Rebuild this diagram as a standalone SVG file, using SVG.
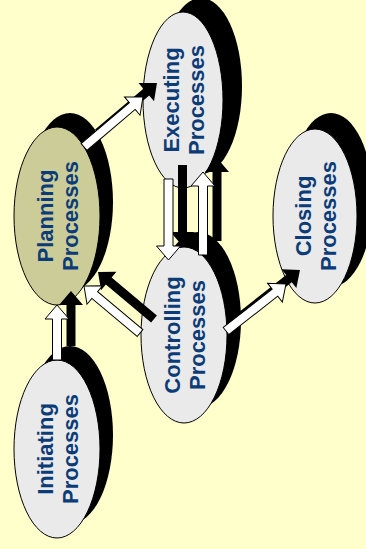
<svg xmlns="http://www.w3.org/2000/svg" xmlns:xlink="http://www.w3.org/1999/xlink" width="366" height="549" viewBox="0 0 366 549">
<style>
.bg{fill:#FFFFCC}
.sh{fill:#000000}
.el{fill:#EAEAEA;stroke:#000000;stroke-width:1}
.pl{fill:#CCCC99}
.lb{font-family:"Liberation Sans",Arial,sans-serif;font-weight:bold;font-size:22px;fill:#0B3C78;text-anchor:middle}
.ash{fill:#000000}
.aw{fill:#FFFFFF;stroke:#000000;stroke-width:1}
</style>
<defs>
<polygon id="a1" transform="translate(57,360) rotate(-90)" points="0,-4.5 41,-4.5 41,-12 55,0 41,12 41,4.5 0,4.5"/>
<polygon id="a2" transform="translate(84,147) rotate(-40.3)" points="0,-4.5 63.3,-4.5 63.3,-12 77.3,0 63.3,12 63.3,4.5 0,4.5"/>
<polygon id="a3" transform="translate(168.5,179) rotate(90)" points="0,-4.5 67,-4.5 67,-12 81,0 67,12 67,4.5 0,4.5"/>
<polygon id="a4" transform="translate(203,255) rotate(-90)" points="0,-4.5 69,-4.5 69,-12 83,0 69,12 69,4.5 0,4.5"/>
<polygon id="a5" transform="translate(140,333) rotate(-140)" points="0,-4.5 59.1,-4.5 59.1,-12 73.1,0 59.1,12 59.1,4.5 0,4.5"/>
<polygon id="a6" transform="translate(226,331) rotate(-38.1)" points="0,-4.5 62.2,-4.5 62.2,-12 76.2,0 62.2,12 62.2,4.5 0,4.5"/>
</defs>
<rect class="bg" x="0" y="0" width="366" height="549"/>
<g id="node-executing">
<ellipse class="sh" cx="201" cy="86" rx="41" ry="88"/>
<ellipse class="el" cx="183" cy="100" rx="40" ry="88"/>
<text class="lb" transform="translate(183,100) rotate(-90)"><tspan x="0" y="-4">Executing</tspan><tspan x="0" y="21">Processes</tspan></text>
</g>
<g id="node-planning">
<ellipse class="sh" cx="70" cy="202" rx="43" ry="89"/>
<ellipse class="el pl" cx="57" cy="216" rx="43" ry="89"/>
<text class="lb" transform="translate(57,216) rotate(-90)"><tspan x="0" y="-4">Planning</tspan><tspan x="0" y="21">Processes</tspan></text>
</g>
<g id="node-closing">
<ellipse class="sh" cx="331" cy="200" rx="42" ry="87"/>
<ellipse class="el" cx="315" cy="216" rx="42" ry="87"/>
<text class="lb" transform="translate(315,216) rotate(-90)"><tspan x="0" y="-4">Closing</tspan><tspan x="0" y="21">Processes</tspan></text>
</g>
<g id="node-controlling">
<ellipse class="sh" cx="198" cy="320" rx="43" ry="88"/>
<ellipse class="el" cx="184" cy="335" rx="43" ry="88"/>
<text class="lb" transform="translate(184,335) rotate(-90)"><tspan x="0" y="-4">Controlling</tspan><tspan x="0" y="21">Processes</tspan></text>
</g>
<g id="node-initiating">
<ellipse class="sh" cx="70" cy="435" rx="43" ry="89"/>
<ellipse class="el" cx="57" cy="449" rx="43" ry="89"/>
<text class="lb" transform="translate(57,449) rotate(-90)"><tspan x="0" y="-4">Initiating</tspan><tspan x="0" y="21">Processes</tspan></text>
</g>
<g id="connectors">
<g class="ash" transform="translate(14,-14)">
<use xlink:href="#a1"/>
<use xlink:href="#a2"/>
<use xlink:href="#a3"/>
<use xlink:href="#a4"/>
<use xlink:href="#a5"/>
<use xlink:href="#a6"/>
</g>
<g class="aw">
<use xlink:href="#a1"/>
<use xlink:href="#a2"/>
<use xlink:href="#a3"/>
<use xlink:href="#a4"/>
<use xlink:href="#a5"/>
<use xlink:href="#a6"/>
</g>
</g>
</svg>
